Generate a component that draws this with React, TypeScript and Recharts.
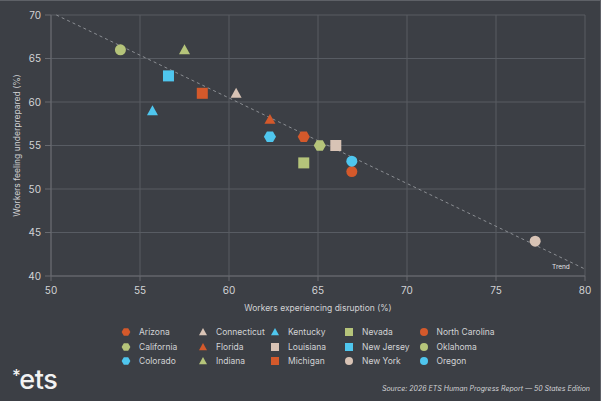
import React from "react";
import {
  ScatterChart,
  Scatter,
  XAxis,
  YAxis,
  CartesianGrid,
  ReferenceLine,
  ReferenceDot,
} from "recharts";

const states = [
  "Arizona", "California", "Colorado", "Connecticut", "Florida",
  "Indiana", "Kentucky", "Louisiana", "Michigan", "Nevada",
  "New Jersey", "New York", "North Carolina", "Oklahoma", "Oregon",
];
const disruption = [64.2, 65.1, 62.3, 60.4, 62.3, 57.5, 55.7, 66.0, 58.5, 64.2, 56.6, 77.2, 66.9, 53.9, 66.9];
const underprepared = [56, 55, 56, 61, 58, 66, 59, 55, 61, 53, 63, 44, 52, 66, 53.2];
const shapes = ["hex", "hex", "hex", "tri", "tri", "tri", "tri", "sq", "sq", "sq", "sq", "circle", "circle", "circle", "circle"];
const colors = [
  "#d4592b", "#b5c47a", "#4fc6ee", "#d8c3b5", "#d4592b",
  "#b5c47a", "#4fc6ee", "#d8c3b5", "#d4592b", "#b5c47a",
  "#4fc6ee", "#d8c3b5", "#d4592b", "#b5c47a", "#4fc6ee",
];
const xTicks = [50, 55, 60, 65, 70, 75, 80];
const yTicks = [40, 45, 50, 55, 60, 65, 70];
const trend = [
  { x: 50.3, y: 70 },
  { x: 80, y: 40.8 },
];

const BG = "#3c3f45";
const GRID = "#585c63";
const TEXT = "#d2d3d5";
const FONT = "Inter, 'Noto Sans', sans-serif";

function Marker({ cx, cy, kind, color, r = 5.5 }: any) {
  if (kind === "circle") return <circle cx={cx} cy={cy} r={r} fill={color} />;
  if (kind === "sq")
    return <rect x={cx - r} y={cy - r} width={r * 2} height={r * 2} fill={color} />;
  if (kind === "tri") {
    const h = r * 1.8;
    const pts = `${cx},${cy - h * 0.55} ${cx + r},${cy + h * 0.45} ${cx - r},${cy + h * 0.45}`;
    return <polygon points={pts} fill={color} />;
  }
  const rr = r * 1.1;
  const pts = [0, 60, 120, 180, 240, 300]
    .map((a) => {
      const t = (a * Math.PI) / 180;
      return `${cx + rr * Math.cos(t)},${cy + rr * Math.sin(t)}`;
    })
    .join(" ");
  return <polygon points={pts} fill={color} />;
}

const legendX = [126, 203, 275, 349, 423.5];
const legendY = [331, 345.5, 360];

export default function App() {
  return (
    <div
      style={{
        position: "absolute",
        top: 0,
        left: 0,
        width: 601,
        height: 401,
        background: BG,
        overflow: "hidden",
        fontFamily: FONT,
        boxSizing: "border-box",
        borderTop: "1px solid #5e6167",
        borderRight: "1px solid #5e6167",
      }}
    >
      <ScatterChart
        width={601}
        height={320}
        margin={{ top: 15, right: 16, bottom: 0, left: 0 }}
        style={{ position: "absolute", top: -1, left: 0 }}
      >
        <CartesianGrid stroke={GRID} />
        <XAxis
          type="number"
          dataKey="x"
          domain={[50, 80]}
          ticks={xTicks}
          height={44}
          tickSize={5}
          tickMargin={6}
          stroke="#686b71"
          tick={{ fill: TEXT, fontSize: 10, fontFamily: FONT }}
          label={{
            value: "Workers experiencing disruption (%)",
            position: "insideBottom",
            offset: 9,
            fill: TEXT,
            fontSize: 8.5,
            fontFamily: FONT,
          }}
        />
        <YAxis
          type="number"
          dataKey="y"
          domain={[40, 70]}
          ticks={yTicks}
          width={51}
          tickSize={6}
          tickMargin={4}
          stroke="#686b71"
          tick={{ fill: TEXT, fontSize: 10, fontFamily: FONT }}
          label={{
            value: "Workers feeling underprepared (%)",
            angle: -90,
            position: "insideLeft",
            offset: 17,
            fill: TEXT,
            fontSize: 8.5,
            fontFamily: FONT,
            style: { textAnchor: "middle" },
          }}
        />
        <ReferenceLine
          segment={trend}
          stroke="#8b8e93"
          strokeDasharray="3 3"
          strokeWidth={1}
        />
        <ReferenceDot
          x={78.65}
          y={41}
          r={0}
          stroke="none"
          label={(p: any) => (
            <text
              x={p.viewBox.x + (p.viewBox.width || 0) / 2}
              y={p.viewBox.y + (p.viewBox.height || 0) / 2}
              fill="#e4e4e6"
              fontSize={6.5}
              fontFamily={FONT}
              textAnchor="middle"
              dominantBaseline="central"
            >
              Trend
            </text>
          )}
        />
        {states.map((s, i) => (
          <Scatter
            key={s}
            name={s}
            data={[{ x: disruption[i], y: underprepared[i] }]}
            isAnimationActive={false}
            shape={(p: any) => (
              <Marker cx={p.cx} cy={p.cy} kind={shapes[i]} color={colors[i]} />
            )}
          />
        ))}
      </ScatterChart>

      {states.map((s, i) => {
        const col = Math.floor(i / 3);
        const row = i % 3;
        return (
          <div
            key={s}
            style={{
              position: "absolute",
              left: legendX[col] - 5,
              top: legendY[row] - 6,
              height: 12,
              display: "flex",
              alignItems: "center",
              whiteSpace: "nowrap",
            }}
          >
            <svg width={10} height={12}>
              <Marker cx={5} cy={6} kind={shapes[i]} color={colors[i]} r={4} />
            </svg>
            <span style={{ marginLeft: 8, color: TEXT, fontSize: 8.5 }}>{s}</span>
          </div>
        );
      })}

      <div
        style={{
          position: "absolute",
          left: 12,
          top: 365,
          color: "#f2f2f2",
          fontSize: 27,
          fontWeight: 500,
          letterSpacing: -0.5,
          lineHeight: 1,
        }}
      >
        <span style={{ fontSize: 17, verticalAlign: 7, marginRight: -1 }}>*</span>ets
      </div>
      <div
        style={{
          position: "absolute",
          right: 10,
          top: 383,
          color: TEXT,
          fontSize: 7,
          fontStyle: "italic",
          whiteSpace: "nowrap",
        }}
      >
        Source: 2026 ETS Human Progress Report — 50 States Edition
      </div>
    </div>
  );
}
